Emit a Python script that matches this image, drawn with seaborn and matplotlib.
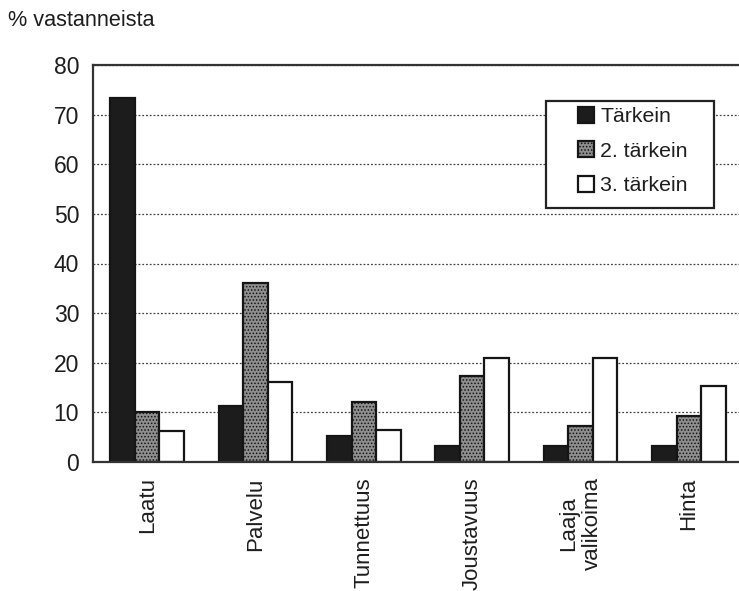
import numpy as np
import pandas as pd
import matplotlib
matplotlib.use("Agg")
import matplotlib.pyplot as plt
from matplotlib.patches import Patch, Rectangle
import seaborn as sns

# Survey results: share of respondents naming each factor
categories = ["Laatu", "Palvelu", "Tunnettuus", "Joustavuus", "Laaja\nvalikoima", "Hinta"]
series = ["Tärkein", "2. tärkein", "3. tärkein"]
tarkein = [73.3, 11.2, 5.2, 3.2, 3.2, 3.2]
tarkein_2 = [10.0, 36.0, 12.0, 17.3, 7.2, 9.3]
tarkein_3 = [6.3, 16.1, 6.4, 21.0, 21.0, 15.3]
y_ticks = [0, 10, 20, 30, 40, 50, 60, 70, 80]

df = pd.DataFrame({
    "kategoria": categories * 3,
    "sarja": [s for s in series for _ in categories],
    "osuus": tarkein + tarkein_2 + tarkein_3,
})

sns.set_theme(style="white")
plt.rcParams["font.family"] = ["Liberation Sans", "DejaVu Sans"]
plt.rcParams["hatch.linewidth"] = 0.7

colors = ["#1c1c1c", "#8e8e8e", "#ffffff"]
edge = "#151515"
text_col = "#1e1e1e"

fig = plt.figure(figsize=(7.39, 5.91), dpi=100)
W, H = 739, 591
ax = fig.add_axes([93 / W, (H - 462) / H, (743 - 93) / W, (462 - 65) / H])

sns.barplot(data=df, x="kategoria", y="osuus", hue="sarja",
            palette=colors, width=0.68,
            edgecolor=edge, linewidth=1.6, saturation=1,
            ax=ax, legend=False)

# stippled fill for the second series
for bar in ax.containers[1]:
    bar.set_hatch(".....")

ax.set_ylim(0, 80)
ax.set_xlim(-0.5, 5.5)
ax.set_yticks(y_ticks)
ax.set_yticklabels([str(v) for v in y_ticks], fontsize=16.5, color=text_col)
ax.set_xticks(range(len(categories)))
ax.set_xticklabels(categories, rotation=90, fontsize=16, color=text_col)
ax.tick_params(axis="x", which="major", length=0, pad=11)
ax.set_xticks(np.arange(-0.5, 6.0, 1.0), minor=True)
ax.tick_params(axis="x", which="minor", length=6, width=1.2, color="#333333", direction="inout")
ax.tick_params(axis="y", which="major", length=5, width=1.2, color="#333333", direction="out", pad=5)
ax.set_xlabel("")
ax.set_ylabel("")

ax.yaxis.grid(True, linestyle=(0, (1.5, 1.5)), color="#444444", linewidth=0.9)
ax.set_axisbelow(True)
for side in ["left", "top", "bottom"]:
    ax.spines[side].set_visible(True)
    ax.spines[side].set_color("#333333")
    ax.spines[side].set_linewidth(1.6)
ax.spines["right"].set_visible(False)

# legend box drawn separately so its padding can be uneven
box = Rectangle((546 / W, 1 - 208 / H), 168 / W, 107 / H, transform=fig.transFigure,
                facecolor="white", edgecolor="#222222", linewidth=1.6, zorder=3)
fig.patches.append(box)

handles = [
    Patch(facecolor=colors[0], edgecolor=edge, linewidth=1.6),
    Patch(facecolor=colors[1], edgecolor=edge, linewidth=1.6, hatch="....."),
    Patch(facecolor=colors[2], edgecolor=edge, linewidth=1.6),
]
leg = fig.legend(handles, series, loc="upper left",
                 bbox_to_anchor=(578 / W, 1 - 107 / H), bbox_transform=fig.transFigure,
                 fontsize=15.3, frameon=False, borderaxespad=0, borderpad=0,
                 handlelength=0.75, handleheight=0.75, handletextpad=0.3,
                 labelspacing=0.72)
leg.set_zorder(4)
for t in leg.get_texts():
    t.set_color(text_col)

fig.text(8 / W, 1 - 20 / H, "% vastanneista", ha="left", va="center",
         fontsize=15.6, color=text_col)

fig.savefig("out.png", dpi=100)
